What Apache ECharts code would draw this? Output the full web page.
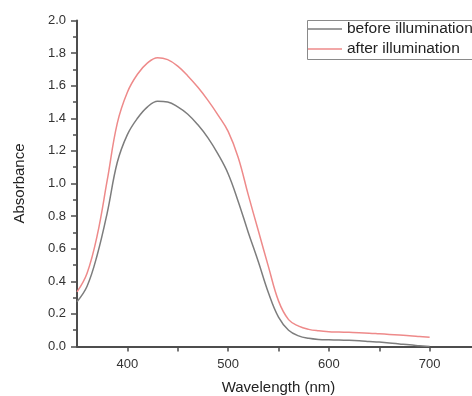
<!DOCTYPE html>
<html>
<head>
<meta charset="utf-8">
<script src="https://cdn.jsdelivr.net/npm/echarts@6/dist/echarts.min.js"></script>
<style>
  html, body { margin: 0; padding: 0; background: #fff; }
  #chart { width: 472px; height: 396px; }
</style>
</head>
<body>
<div id="chart"></div>
<script>
// Absorption spectra before and after illumination (10 nm steps)
const wavelength = [350, 360, 370, 380, 390, 400, 410, 420, 430, 440, 450, 460, 470, 480, 490, 500, 510, 520, 530, 540, 550, 560, 570, 580, 590, 600, 610, 620, 630, 640, 650, 660, 670, 680, 690, 700];
const beforeIllumination = [0.275, 0.37, 0.56, 0.82, 1.13, 1.30, 1.40, 1.47, 1.505, 1.50, 1.47, 1.425, 1.36, 1.28, 1.18, 1.06, 0.89, 0.70, 0.52, 0.33, 0.18, 0.10, 0.065, 0.05, 0.043, 0.041, 0.04, 0.038, 0.035, 0.031, 0.027, 0.022, 0.016, 0.01, 0.005, 0.0];
const afterIllumination = [0.335, 0.45, 0.68, 1.02, 1.37, 1.56, 1.67, 1.74, 1.772, 1.76, 1.72, 1.66, 1.59, 1.51, 1.42, 1.32, 1.16, 0.93, 0.71, 0.49, 0.28, 0.165, 0.125, 0.105, 0.096, 0.091, 0.089, 0.087, 0.085, 0.082, 0.078, 0.074, 0.07, 0.066, 0.061, 0.056];
const xLabelValues = [400, 500, 600, 700];
const xTickValues = [400, 450, 500, 550, 600, 650, 700, 750];
const seriesNames = ['before illumination', 'after illumination'];

const pairs = (xs, ys) => xs.map((x, i) => [x, ys[i]]);

const chart = echarts.init(document.getElementById('chart'), null, { renderer: 'canvas' });
const font = 'Liberation Sans, Arial, sans-serif';
const axisColor = '#4d4d4d';

chart.setOption({
  animation: false,
  backgroundColor: '#ffffff',
  // the plot area runs slightly past the right edge of the canvas
  grid: { left: 77, right: -8, top: 20.5, bottom: 49.5, containLabel: false, outerBoundsMode: 'none' },
  // legend frame runs past the right edge of the canvas
  graphic: [{
    type: 'rect',
    left: 305,
    top: 18,
    shape: { width: 220, height: 39 },
    style: { fill: 'none', stroke: '#8a8a8a', lineWidth: 1 },
    z: 5
  }],
  legend: {
    orient: 'vertical',
    left: 305,
    top: 18,
    data: seriesNames,
    icon: 'rect',
    itemWidth: 34,
    itemHeight: 1.5,
    itemGap: 4,
    padding: [3, 3, 2, 3],
    borderWidth: 0,
    textStyle: { fontFamily: font, fontSize: 15.5, color: '#222', lineHeight: 16 }
  },
  xAxis: {
    type: 'value',
    min: 350,
    max: 750,
    name: 'Wavelength (nm)',
    nameLocation: 'middle',
    nameGap: 34,
    nameTextStyle: { fontFamily: font, fontSize: 15, color: '#222' },
    axisLine: { show: true, lineStyle: { color: axisColor, width: 2 } },
    axisTick: { show: true, customValues: xTickValues, length: 5, inside: false, lineStyle: { color: axisColor, width: 1.5 } },
    axisLabel: { customValues: xLabelValues, margin: 11, fontFamily: font, fontSize: 13, color: '#333' },
    splitLine: { show: false }
  },
  yAxis: {
    type: 'value',
    min: 0,
    max: 2,
    interval: 0.2,
    name: 'Absorbance',
    nameLocation: 'middle',
    nameGap: 50,
    nameRotate: 90,
    nameTextStyle: { fontFamily: font, fontSize: 15, color: '#222' },
    axisLine: { show: true, lineStyle: { color: axisColor, width: 2 } },
    axisTick: { show: true, length: 6, inside: false, lineStyle: { color: axisColor, width: 1.5 } },
    minorTick: { show: true, splitNumber: 2, length: 4, lineStyle: { color: axisColor, width: 1.5 } },
    axisLabel: { margin: 11, fontFamily: font, fontSize: 13, color: '#333', formatter: v => v.toFixed(1) },
    splitLine: { show: false }
  },
  series: [
    {
      name: seriesNames[0],
      type: 'line',
      data: pairs(wavelength, beforeIllumination),
      smooth: 0.4,
      symbol: 'none',
      lineStyle: { color: '#7d7d7d', width: 1.5 },
      itemStyle: { color: '#7d7d7d' }
    },
    {
      name: seriesNames[1],
      type: 'line',
      data: pairs(wavelength, afterIllumination),
      smooth: 0.4,
      symbol: 'none',
      lineStyle: { color: '#ee8a8a', width: 1.5 },
      itemStyle: { color: '#ee8a8a' }
    }
  ]
});
</script>
</body>
</html>
